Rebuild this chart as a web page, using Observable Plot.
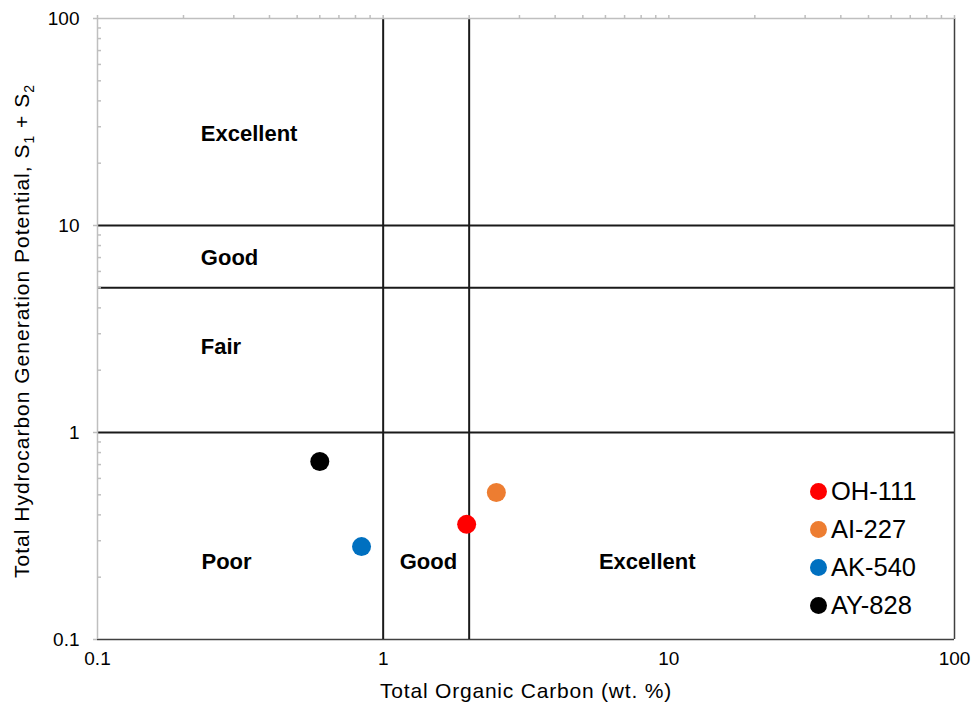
<!DOCTYPE html>
<html>
<head>
<meta charset="utf-8">
<script src="https://cdn.jsdelivr.net/npm/d3@7"></script>
<script src="https://cdn.jsdelivr.net/npm/@observablehq/plot@0.6"></script>
<style>
  html, body { margin: 0; padding: 0; background: #fff; }
  #chart { position: relative; width: 971px; height: 706px; font-family: "Liberation Sans", Arial, sans-serif; }
  #legend { position: absolute; left: 810px; top: 472px; }
  #legend .row { display: flex; align-items: center; height: 38px; font-size: 25.5px; color: #000; }
  #legend .sw { width: 17px; height: 17px; border-radius: 50%; margin-right: 4px; }
</style>
</head>
<body>
<div id="chart"><div id="legend"></div></div>
<script>
// Source-rock samples: total organic carbon vs. S1 + S2
const samples = ["OH-111", "AI-227", "AK-540", "AY-828"];
const toc     = [1.96, 2.49, 0.84, 0.60];
const s1s2    = [0.36, 0.513, 0.281, 0.725];
const colors  = ["#ff0000", "#ed7d31", "#0070c0", "#000000"];

// Classification boundaries
const tocLimits  = [1, 2];
const hcgpLimits = [1, 5, 10];

// Zone names for the potential (left column) and TOC (bottom row)
const potentialZones = ["Excellent", "Good", "Fair"];
const potentialZoneY = [27.6, 7.0, 2.6];
const tocZones  = ["Poor", "Good", "Excellent"];
const tocZoneX  = [0.283, 1.44, 8.4];

// Axis ticks
const majorTicks = [0.1, 1, 10, 100];
const tickLabels = ["0.1", "1", "10", "100"];

const minorTicks = [];
for (const d of [0.1, 1, 10]) for (let k = 1; k <= 9; k++) minorTicks.push(+(d * k).toPrecision(3));

const points = samples.map((s, i) => ({ sample: s, toc: toc[i], s1s2: s1s2[i], color: colors[i] }));

const grey = "#bfbfbf";
const dark = "#1a1a1a";
const font = "'Liberation Sans', Arial, sans-serif";

const plot = Plot.plot({
  width: 971,
  height: 706,
  marginLeft: 97,
  marginRight: 17,
  marginTop: 18,
  marginBottom: 67,
  style: { fontFamily: font, background: "#fff", overflow: "visible" },
  x: { type: "log", domain: [0.1, 100] },
  y: { type: "log", domain: [0.1, 100] },
  marks: [
    // plot-area border (right and bottom)
    Plot.ruleX([100], { y1: 0.1, y2: 100, stroke: "#404040", strokeWidth: 1.5 }),
    Plot.ruleY([0.1], { x1: 0.1, x2: 100, stroke: "#404040", strokeWidth: 1.5 }),
    // classification boundaries
    Plot.ruleX(tocLimits, { y1: 0.1, y2: 100, stroke: dark, strokeWidth: 2 }),
    Plot.ruleY(hcgpLimits, { x1: 0.1, x2: 100, stroke: dark, strokeWidth: 2 }),
    // grey axis lines on the left and top
    Plot.ruleX([0.1], { y1: 0.1, y2: 100, stroke: grey, strokeWidth: 1.5 }),
    Plot.ruleY([100], { x1: 0.1, x2: 100, stroke: grey, strokeWidth: 1.5 }),
    // top axis ticks (outward), no labels
    Plot.axisX({ anchor: "top", ticks: minorTicks.concat([100]), tickSize: 4, stroke: grey, strokeWidth: 1.5, tickFormat: () => "", label: null }),
    // minor y ticks pointing inward
    Plot.ruleY(minorTicks.filter(d => !majorTicks.includes(d)), { x1: 0.1, x2: 0.1, insetRight: -4, stroke: grey, strokeWidth: 1.5 }),
    // major y ticks + labels
    Plot.axisY({ anchor: "left", ticks: majorTicks, tickSize: 4, tickPadding: 14, stroke: grey, strokeWidth: 1.5,
      tickFormat: d => tickLabels[majorTicks.indexOf(d)], fontSize: 19, fill: "#000", label: null }),
    // x tick labels
    Plot.axisX({ anchor: "bottom", ticks: majorTicks, tickSize: 0, tickPadding: 12,
      tickFormat: d => tickLabels[majorTicks.indexOf(d)], fontSize: 19, fill: "#000", label: null }),
    // zone names
    Plot.text(potentialZones, { x: 0.23, y: (d, i) => potentialZoneY[i], text: d => d, textAnchor: "start",
      fontSize: 22, fontWeight: "bold", fill: "#000" }),
    Plot.text(tocZones, { x: (d, i) => tocZoneX[i], y: 0.238, text: d => d,
      fontSize: 22, fontWeight: "bold", fill: "#000" }),
    // samples
    Plot.dot(points, { x: "toc", y: "s1s2", r: 9.5, fill: "color", stroke: "none" })
  ]
});

const svg = d3.select(plot);
// axis titles
svg.append("text")
  .attr("x", 526).attr("y", 698)
  .attr("text-anchor", "middle")
  .attr("font-size", 21).attr("letter-spacing", 0.8)
  .attr("fill", "#000")
  .text("Total Organic Carbon (wt. %)");

const yt = svg.append("text")
  .attr("transform", "translate(29,331) rotate(-90)")
  .attr("text-anchor", "middle")
  .attr("font-size", 21).attr("letter-spacing", 1)
  .attr("fill", "#000");
yt.append("tspan").text("Total Hydrocarbon Generation Potential, S");
yt.append("tspan").attr("font-size", 14).attr("dy", 5).text("1");
yt.append("tspan").attr("dy", -5).text(" + S");
yt.append("tspan").attr("font-size", 14).attr("dy", 5).text("2");

const chart = document.getElementById("chart");
chart.insertBefore(plot, chart.firstChild);

// legend
const legend = d3.select("#legend");
points.forEach(p => {
  const row = legend.append("div").attr("class", "row");
  row.append("div").attr("class", "sw").style("background", p.color);
  row.append("span").text(p.sample);
});
</script>
</body>
</html>
